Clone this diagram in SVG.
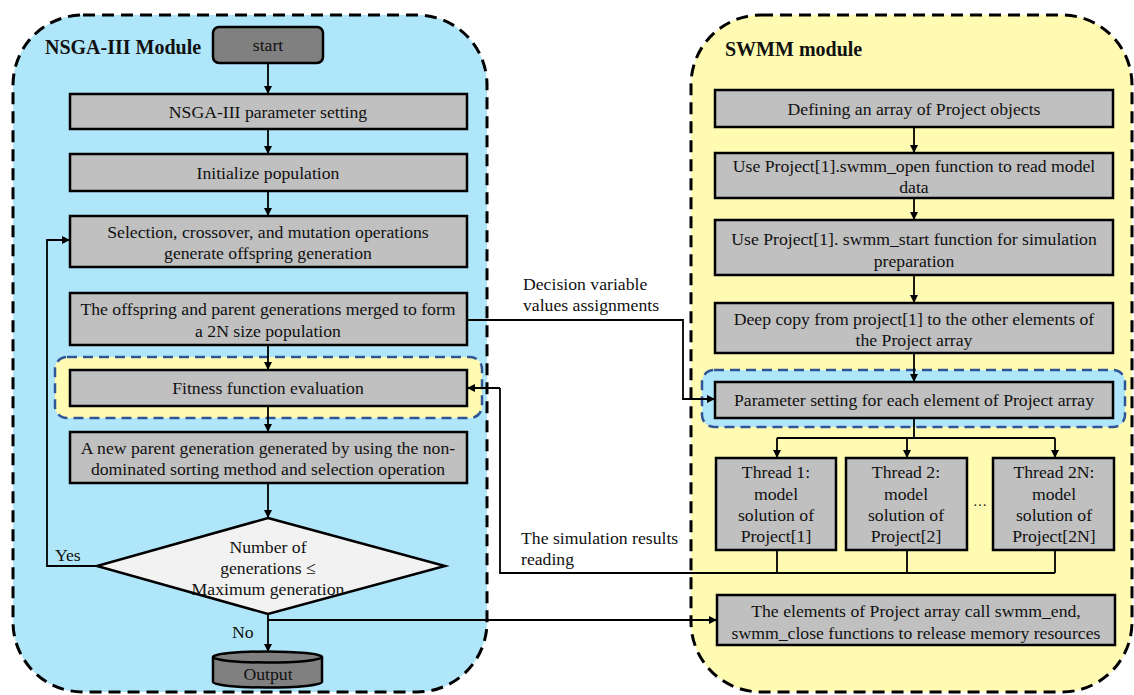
<svg xmlns="http://www.w3.org/2000/svg" width="1134" height="695" viewBox="0 0 1134 695" font-family="'Liberation Serif', 'Times New Roman', 'DejaVu Serif', serif">
<defs>
<marker id="ah" viewBox="0 0 10 10" refX="10" refY="5" markerWidth="8" markerHeight="8" markerUnits="userSpaceOnUse" orient="auto">
<path d="M0,0 L10,5 L0,10 Z" fill="#000"/>
</marker>
<style>
.box{fill:#c0c0c0;stroke:#000;stroke-width:2.5}
.dark{fill:#808080;stroke:#000;stroke-width:2.5}
.t{font-size:17.7px;fill:#111;text-anchor:middle}
.tl{font-size:17.7px;fill:#111}
.title{font-size:20px;font-weight:bold;fill:#111}
.c{fill:none;stroke:#000;stroke-width:1.8}
.ca{fill:none;stroke:#000;stroke-width:1.8;marker-end:url(#ah)}
.cont{stroke:#000;stroke-width:3;stroke-dasharray:12 7}
.hl{stroke:#2f5597;stroke-width:2.5;stroke-dasharray:10 6}
</style>
</defs>

<g id="nsga-module">
<rect class="cont" x="13" y="15" width="474" height="677" rx="70" ry="70" fill="#b0e6f9"/>
<text class="title" x="45" y="54">NSGA-III Module</text>
</g>
<g id="swmm-module">
<rect class="cont" x="691" y="15" width="441" height="677" rx="70" ry="70" fill="#fffbb3"/>
<text class="title" x="725" y="56">SWMM module</text>
</g>

<g id="hl-fitness"><rect class="hl" x="55" y="357" width="427" height="61" rx="12" fill="#fffbb3"/></g>
<g id="hl-param"><rect class="hl" x="702" y="370" width="423" height="57" rx="12" fill="#b0e6f9"/></g>

<g id="connectors">
<path class="ca" d="M268,63 V94"/>
<path class="ca" d="M268,129 V154"/>
<path class="ca" d="M268,191 V216"/>
<path class="ca" d="M268,345 V370"/>
<path class="ca" d="M268,406 V432"/>
<path class="ca" d="M268,483 V518"/>
<path class="ca" d="M268,614 V652"/>
<path class="ca" d="M97,566 H47 V240 H70"/>
<path class="ca" d="M268,620 H717"/>
<path class="ca" d="M467,320 H683 V399 H715"/>
<path class="c" d="M777,550 V573 M907,550 V573 M1055,550 V573 M1055,573 H500 V388"/>
<path class="ca" d="M500,388 H467"/>
<path class="ca" d="M914,127 V153"/>
<path class="ca" d="M914,198 V220"/>
<path class="ca" d="M914,275 V303"/>
<path class="ca" d="M914,353 V382"/>
<path class="c" d="M914,418 V438 M777,438 H1055"/>
<path class="ca" d="M777,438 V458"/>
<path class="ca" d="M907,438 V458"/>
<path class="ca" d="M1055,438 V458"/>
<text class="tl" x="523" y="290">Decision variable</text>
<text class="tl" x="523" y="311">values assignments</text>
<text class="tl" x="521" y="544">The simulation results</text>
<text class="tl" x="521" y="565">reading</text>
<text class="tl" x="55" y="561">Yes</text>
<text class="tl" x="232" y="638">No</text>
</g>

<g id="n-start"><rect class="dark" x="213" y="27" width="110" height="36" rx="6"/><text class="t" x="268" y="51">start</text></g>
<g id="n-param"><rect class="box" x="70" y="94" width="397" height="35"/><text class="t" x="268" y="118">NSGA-III parameter setting</text></g>
<g id="n-init"><rect class="box" x="70" y="154" width="397" height="37"/><text class="t" x="268" y="179">Initialize population</text></g>
<g id="n-select"><rect class="box" x="70" y="216" width="397" height="51"/><text class="t" x="268" y="238">Selection, crossover, and mutation operations</text><text class="t" x="268" y="259">generate offspring generation</text></g>
<g id="n-merge"><rect class="box" x="70" y="293" width="397" height="52"/><text class="t" x="268" y="315">The offspring and parent generations merged to form</text><text class="t" x="268" y="337">a 2N size population</text></g>
<g id="n-fitness"><rect class="box" x="70" y="370" width="397" height="36"/><text class="t" x="268" y="394">Fitness function evaluation</text></g>
<g id="n-newparent"><rect class="box" x="70" y="432" width="397" height="51"/><text class="t" x="268" y="454">A new parent generation generated by using the non-</text><text class="t" x="268" y="475">dominated sorting method and selection operation</text></g>
<g id="n-decision"><path d="M268,518 L445,566 L268,614 L97,566 Z" fill="#f2f2f2" stroke="#000" stroke-width="2.5"/><text class="t" x="268" y="553">Number of</text><text class="t" x="268" y="574">generations ≤</text><text class="t" x="268" y="595">Maximum generation</text></g>
<g id="n-output"><path class="dark" d="M213,657 V682 A54.5,5.5 0 0 0 322,682 V657"/><ellipse class="dark" cx="267.5" cy="657" rx="54.5" ry="5.5"/><text class="t" x="268" y="680">Output</text></g>

<g id="n-define"><rect class="box" x="715" y="90" width="398" height="37"/><text class="t" x="914" y="115">Defining an array of Project objects</text></g>
<g id="n-open"><rect class="box" x="715" y="153" width="398" height="45"/><text class="t" x="914" y="172">Use Project[1].swmm_open function to read model</text><text class="t" x="914" y="193">data</text></g>
<g id="n-start2"><rect class="box" x="715" y="220" width="398" height="55"/><text class="t" x="914" y="245">Use Project[1]. swmm_start function for simulation</text><text class="t" x="914" y="267">preparation</text></g>
<g id="n-copy"><rect class="box" x="715" y="303" width="398" height="50"/><text class="t" x="914" y="325">Deep copy from project[1] to the other elements of</text><text class="t" x="914" y="346">the Project array</text></g>
<g id="n-pset"><rect class="box" x="715" y="382" width="398" height="36"/><text class="t" x="914" y="406">Parameter setting for each element of Project array</text></g>
<g id="n-t1"><rect class="box" x="716" y="458" width="120" height="92"/><text class="t" x="776" y="478">Thread 1:</text><text class="t" x="776" y="500">model</text><text class="t" x="776" y="521">solution of</text><text class="t" x="776" y="542">Project[1]</text></g>
<g id="n-t2"><rect class="box" x="846" y="458" width="121" height="92"/><text class="t" x="906" y="478">Thread 2:</text><text class="t" x="906" y="500">model</text><text class="t" x="906" y="521">solution of</text><text class="t" x="906" y="542">Project[2]</text></g>
<text class="t" x="980" y="506" style="font-size:14px">…</text>
<g id="n-t2n"><rect class="box" x="993" y="458" width="121" height="92"/><text class="t" x="1054" y="478">Thread 2N:</text><text class="t" x="1054" y="500">model</text><text class="t" x="1054" y="521">solution of</text><text class="t" x="1054" y="542">Project[2N]</text></g>
<g id="n-end"><rect class="box" x="717" y="595" width="398" height="50"/><text class="t" x="916" y="617">The elements of Project array call swmm_end,</text><text class="t" x="916" y="639">swmm_close functions to release memory resources</text></g>
</svg>
